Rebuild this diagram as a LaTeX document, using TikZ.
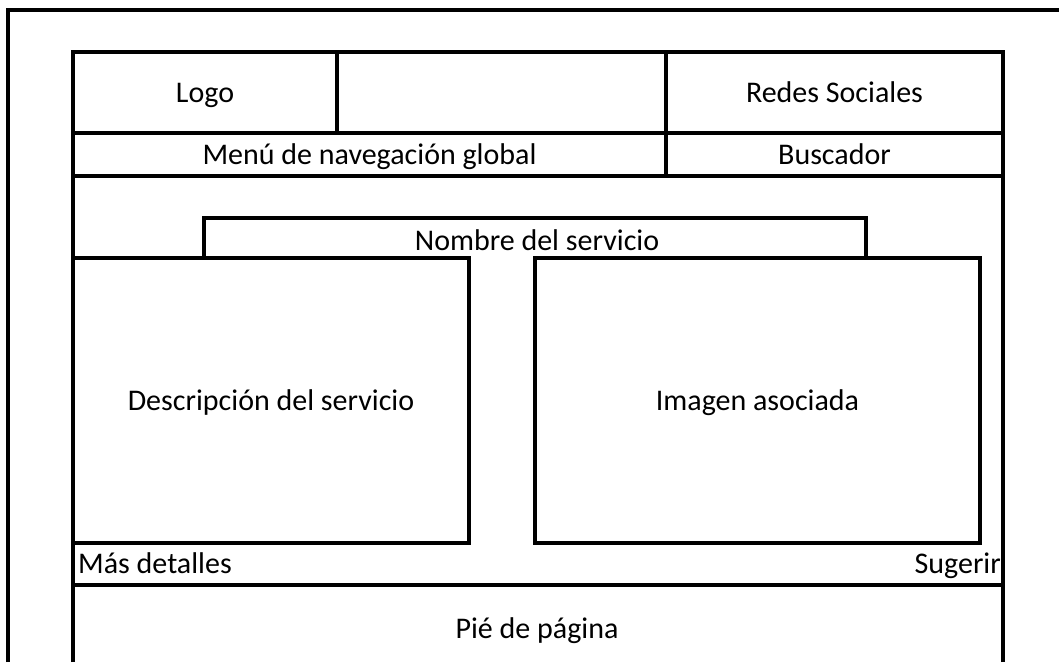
\documentclass[tikz,border=0pt]{standalone}
\usepackage{fontspec}
\setmainfont{Carlito}
\usetikzlibrary{shapes,arrows}

\begin{document}
\begin{tikzpicture}[x=1pt, y=-1pt]
\tikzstyle{boxr}=[rectangle, draw=black, line width=3.6pt, inner sep=0pt, text height=19pt, text depth=0pt, font=\fontsize{30}{36}\selectfont]
\tikzstyle{labelr}=[inner sep=0pt, text height=19pt, text depth=0pt, font=\fontsize{30}{36}\selectfont]
\tikzstyle{drawstyle}=[line width=3.6pt]

\useasboundingbox (0,0) rectangle (1059,662);

% outer frame
\coordinate (F0x0) at (8,662);
\coordinate (F0x1) at (8,10);
\coordinate (F0x2) at (1059,10);
\draw[drawstyle] (F0x0) -- (F0x1) -- (F0x2);

% page frame
\coordinate (P0x0) at (73,52);
\coordinate (P0x1) at (73,662);
\coordinate (P1x0) at (1003,52);
\coordinate (P1x1) at (1003,662);
\draw[drawstyle] (P0x1) -- (P0x0);
\draw[drawstyle] (P1x1) -- (P1x0);

% header
\node[boxr, minimum width=264pt, minimum height=81pt] (H0x0) at (205,92.5) {Logo};
\node[boxr, minimum width=329pt, minimum height=81pt] (H1x0) at (501.5,92.5) {};
\node[boxr, minimum width=337pt, minimum height=81pt] (H2x0) at (834.5,92.5) {Redes Sociales};
\node[boxr, minimum width=593pt, minimum height=43pt] (H0x1) at (369.5,154.5) {Menú de navegación global};
\node[boxr, minimum width=337pt, minimum height=43pt] (H2x1) at (834.5,154.5) {Buscador};

% service
\node[boxr, minimum width=396pt, minimum height=285pt] (S0x1) at (271,400.5) {Descripción del servicio};
\node[boxr, minimum width=445pt, minimum height=285pt] (S1x1) at (757.5,400.5) {Imagen asociada};
\coordinate (S0x0) at (204,258);
\coordinate (S1x0) at (866,258);
\draw[drawstyle] (S0x0) -- (204,218) -- (866,218) -- (S1x0);
\node[labelr] (T0x0) at (537,240.5) {Nombre del servicio};

% links
\node[labelr, anchor=west] (L0x0) at (78,563.5) {Más detalles};
\node[labelr, anchor=east] (L1x0) at (1001,563.5) {Sugerir};
\draw[drawstyle] (P0x1 |- 0,585) -- (P1x1 |- 0,585);

% footer
\node[labelr] (B0x0) at (537,628.5) {Pié de página};
\end{tikzpicture}
\end{document}
